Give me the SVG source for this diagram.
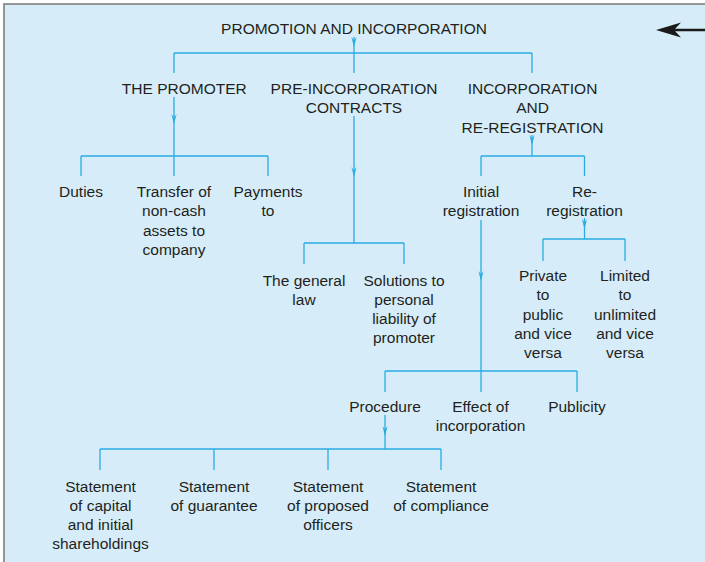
<svg xmlns="http://www.w3.org/2000/svg" width="705" height="562" viewBox="0 0 705 562">
<defs>
<style>
text{font-family:"Liberation Sans",Arial,sans-serif;font-size:15.5px;fill:#231f20;text-anchor:middle}
.c line{stroke:#29abe2;stroke-width:1.3;fill:none}
.ah{fill:#29abe2}
</style>
<path id="ah" class="ah" d="M-2.6,-10 L0,-6.5 L2.6,-10 L0,0 Z"/>
</defs>
<rect x="0" y="0" width="705" height="562" fill="#ffffff"/>
<rect x="4" y="4" width="730" height="600" fill="#d6edf9" stroke="#7f7f7f" stroke-width="1.6"/>
<g id="pointer">
<line x1="672" y1="30" x2="706" y2="30" stroke="#1a1a1a" stroke-width="2.4"/>
<path d="M656,30 L681,22.5 L674,30 L681,37.5 Z" fill="#1a1a1a"/>
</g>
<g class="c" id="connectors">
<line x1="354" y1="37" x2="354" y2="73"/>
<line x1="174" y1="53" x2="532" y2="53"/>
<line x1="174" y1="53" x2="174" y2="73"/>
<line x1="532" y1="53" x2="532" y2="73"/>
<line x1="174" y1="97" x2="174" y2="176"/>
<line x1="81" y1="156" x2="268" y2="156"/>
<line x1="81" y1="156" x2="81" y2="176"/>
<line x1="268" y1="156" x2="268" y2="176"/>
<line x1="354" y1="116" x2="354" y2="243"/>
<line x1="304" y1="243" x2="404" y2="243"/>
<line x1="304" y1="243" x2="304" y2="264"/>
<line x1="404" y1="243" x2="404" y2="264"/>
<line x1="532" y1="135" x2="532" y2="156"/>
<line x1="481" y1="156" x2="584.5" y2="156"/>
<line x1="481" y1="156" x2="481" y2="176"/>
<line x1="584.5" y1="156" x2="584.5" y2="176"/>
<line x1="481" y1="220" x2="481" y2="392"/>
<line x1="584.5" y1="218" x2="584.5" y2="239"/>
<line x1="543" y1="239" x2="625" y2="239"/>
<line x1="543" y1="239" x2="543" y2="261"/>
<line x1="625" y1="239" x2="625" y2="261"/>
<line x1="385" y1="371" x2="577" y2="371"/>
<line x1="385" y1="371" x2="385" y2="392"/>
<line x1="577" y1="371" x2="577" y2="392"/>
<line x1="385" y1="415" x2="385" y2="449"/>
<line x1="100" y1="449" x2="441" y2="449"/>
<line x1="100" y1="449" x2="100" y2="470"/>
<line x1="214" y1="449" x2="214" y2="470"/>
<line x1="328" y1="449" x2="328" y2="470"/>
<line x1="441" y1="449" x2="441" y2="470"/>
<use href="#ah" x="354" y="47"/>
<use href="#ah" x="174" y="124"/>
<use href="#ah" x="354" y="177"/>
<use href="#ah" x="532" y="145"/>
<use href="#ah" x="584.5" y="229"/>
<use href="#ah" x="481" y="281"/>
<use href="#ah" x="385" y="436"/>
</g>
<g id="n-title"><text x="354" y="34">PROMOTION AND INCORPORATION</text></g>
<g id="n-promoter"><text x="184.3" y="94">THE PROMOTER</text></g>
<g id="n-preinc"><text x="354" y="94">PRE-INCORPORATION</text><text x="354" y="113">CONTRACTS</text></g>
<g id="n-increg"><text x="532.5" y="94">INCORPORATION</text><text x="532.5" y="113">AND</text><text x="532.5" y="132.5">RE-REGISTRATION</text></g>
<g id="n-duties"><text x="81" y="197">Duties</text></g>
<g id="n-transfer"><text x="174" y="197">Transfer of</text><text x="174" y="216.3">non-cash</text><text x="174" y="235.6">assets to</text><text x="174" y="254.9">company</text></g>
<g id="n-payments"><text x="268" y="197">Payments</text><text x="268" y="216.3">to</text></g>
<g id="n-general"><text x="304" y="285.5">The general</text><text x="304" y="304.8">law</text></g>
<g id="n-solutions"><text x="404" y="285.5">Solutions to</text><text x="404" y="304.8">personal</text><text x="404" y="324.1">liability of</text><text x="404" y="343.4">promoter</text></g>
<g id="n-initial"><text x="481" y="197">Initial</text><text x="481" y="216.3">registration</text></g>
<g id="n-rereg"><text x="584.5" y="197">Re-</text><text x="584.5" y="216.3">registration</text></g>
<g id="n-private"><text x="543" y="281">Private</text><text x="543" y="300.3">to</text><text x="543" y="319.6">public</text><text x="543" y="338.9">and vice</text><text x="543" y="358.2">versa</text></g>
<g id="n-limited"><text x="625" y="281">Limited</text><text x="625" y="300.3">to</text><text x="625" y="319.6">unlimited</text><text x="625" y="338.9">and vice</text><text x="625" y="358.2">versa</text></g>
<g id="n-procedure"><text x="385" y="412">Procedure</text></g>
<g id="n-effect"><text x="480.5" y="412">Effect of</text><text x="480.5" y="431.3">incorporation</text></g>
<g id="n-publicity"><text x="577" y="412">Publicity</text></g>
<g id="n-capital"><text x="100.5" y="491.5">Statement</text><text x="100.5" y="510.8">of capital</text><text x="100.5" y="530.1">and initial</text><text x="100.5" y="549.4">shareholdings</text></g>
<g id="n-guarantee"><text x="214" y="491.5">Statement</text><text x="214" y="510.8">of guarantee</text></g>
<g id="n-officers"><text x="328" y="491.5">Statement</text><text x="328" y="510.8">of proposed</text><text x="328" y="530.1">officers</text></g>
<g id="n-compliance"><text x="441" y="491.5">Statement</text><text x="441" y="510.8">of compliance</text></g>
</svg>
